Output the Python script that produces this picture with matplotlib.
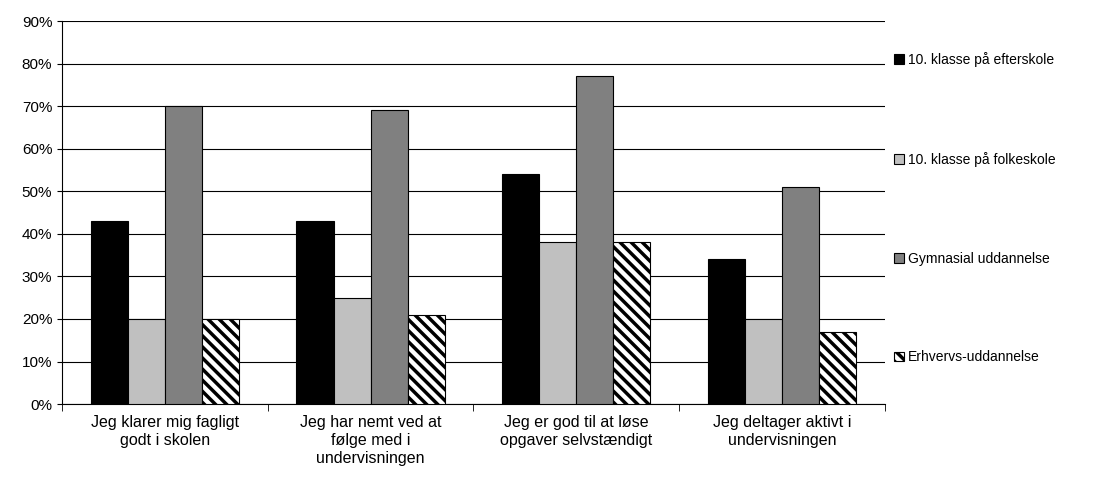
import matplotlib
matplotlib.use("Agg")
import matplotlib.pyplot as plt
import numpy as np
from matplotlib.patches import Patch

plt.rcParams["font.family"] = ["Liberation Sans", "DejaVu Sans"]
plt.rcParams["hatch.linewidth"] = 2.5

categories = ["Jeg klarer mig fagligt\ngodt i skolen",
              "Jeg har nemt ved at\nfølge med i\nundervisningen",
              "Jeg er god til at løse\nopgaver selvstændigt",
              "Jeg deltager aktivt i\nundervisningen"]
series = ["10. klasse på efterskole", "10. klasse på folkeskole",
          "Gymnasial uddannelse", "Erhvervs-uddannelse"]
efterskole = [43, 43, 54, 34]
folkeskole = [20, 25, 38, 20]
gymnasial = [70, 69, 77, 51]
erhverv = [20, 21, 38, 17]

fig = plt.figure(figsize=(10.94, 4.91), dpi=100)
ax = fig.add_axes([0.0567, 0.177, 0.752, 0.780])

x = np.arange(len(categories))
w = 0.18
styles = [("black", None), ("#c0c0c0", None), ("#808080", None), ("white", "\\\\\\")]
handles = []
for i, (vals, (fc, hatch)) in enumerate(zip([efterskole, folkeskole, gymnasial, erhverv], styles)):
    ax.bar(x + (i - 1.5) * w, vals, w, color=fc, edgecolor="black", linewidth=0.8,
           hatch=hatch, zorder=3)
    handles.append(Patch(facecolor=fc, edgecolor="black", hatch=hatch, linewidth=0.8))

ax.set_xlim(-0.5, 3.5)
ax.set_ylim(0, 90)
ax.set_yticks(range(0, 91, 10))
ax.set_yticklabels([f"{v}%" for v in range(0, 91, 10)], fontsize=11)
ax.yaxis.grid(True, color="black", linewidth=0.8, zorder=0)
ax.set_xticks(x)
ax.set_xticklabels(categories, fontsize=11.5, va="top", linespacing=1.25)
ax.tick_params(axis="x", length=0, pad=8)
ax.set_xticks(np.arange(-0.5, 3.6, 1), minor=True)
ax.tick_params(axis="x", which="minor", length=5)
for s in ["top", "right"]:
    ax.spines[s].set_visible(False)

fig.legend(handles, series, loc="upper left", bbox_to_anchor=(0.812, 0.905),
           frameon=False, fontsize=10, labelspacing=6.1, handlelength=0.7,
           handleheight=0.7, handletextpad=0.3, borderaxespad=0)

fig.savefig("out.png", dpi=100)
